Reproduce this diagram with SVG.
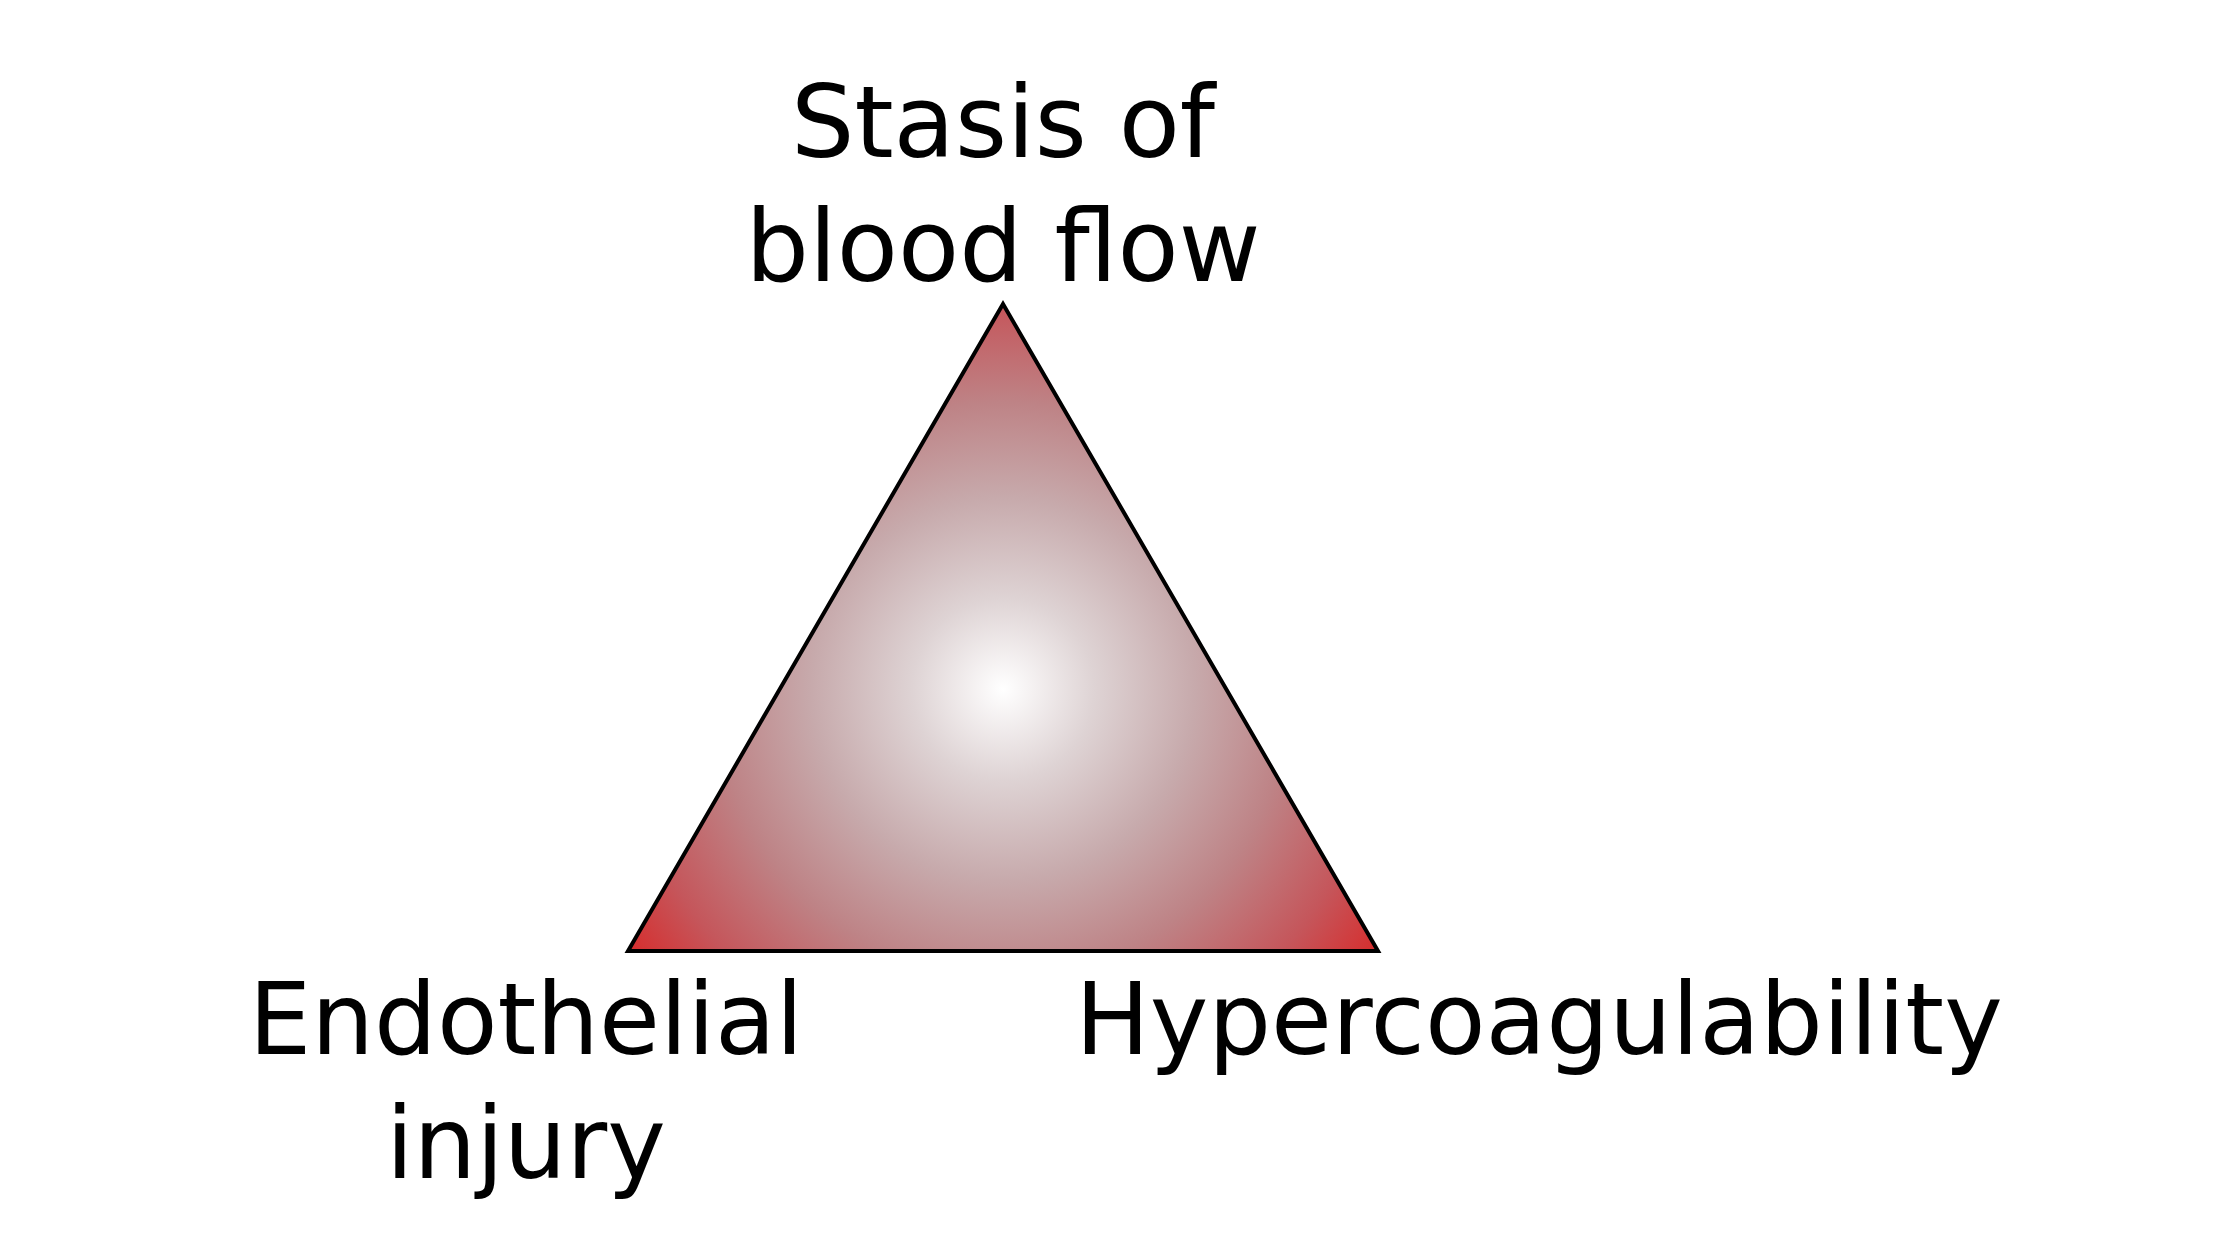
<svg xmlns="http://www.w3.org/2000/svg" width="2240" height="1260" viewBox="0 0 2240 1260">
<style>
.lbl{font-family:"DejaVu Sans",sans-serif;font-size:100px;fill:#000;text-anchor:middle}
.sm{font-size:99px}
.tri{stroke:#000;stroke-width:4;stroke-linejoin:miter}
</style>
<defs>
<radialGradient id="g" gradientUnits="userSpaceOnUse" cx="1003" cy="689" r="455">
<stop offset="0" stop-color="#ffffff"/>
<stop offset="0.2" stop-color="#ded3d4"/>
<stop offset="0.42" stop-color="#c7aaac"/>
<stop offset="0.63" stop-color="#be8386"/>
<stop offset="0.84" stop-color="#c5565b"/>
<stop offset="1" stop-color="#d62e2e"/>
</radialGradient>
</defs>
<rect width="2240" height="1260" fill="#fff"/>
<g id="triangle">
<polygon class="tri" fill="url(#g)" points="1003,304 628,951 1378,951"/>
</g>
<g id="stasis">
<text class="lbl" x="1003" y="157">Stasis of</text>
<text class="lbl" x="1003" y="281">blood flow</text>
</g>
<g id="endothelial">
<text class="lbl sm" x="526" y="1054">Endothelial</text>
<text class="lbl sm" x="526" y="1178">injury</text>
</g>
<g id="hypercoagulability">
<text class="lbl sm" x="1539" y="1054">Hypercoagulability</text>
</g>
<g id="connectors"/>
</svg>
